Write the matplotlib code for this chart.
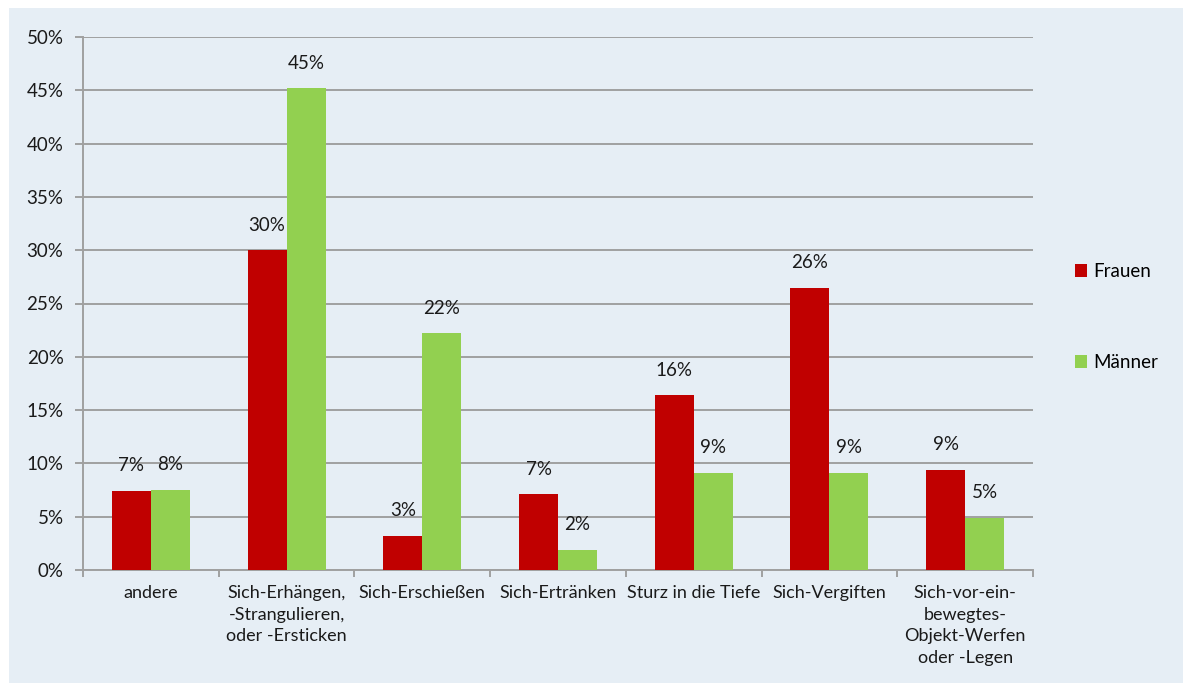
import matplotlib
matplotlib.use("Agg")
import matplotlib.pyplot as plt
import numpy as np
from matplotlib.patches import Rectangle

categories = ["andere", "Sich-Erhängen,\n-Strangulieren,\noder -Ersticken", "Sich-Erschießen",
              "Sich-Ertränken", "Sturz in die Tiefe", "Sich-Vergiften",
              "Sich-vor-ein-\nbewegtes-\nObjekt-Werfen\noder -Legen"]
frauen = [7.4, 30.0, 3.2, 7.1, 16.4, 26.5, 9.4]
maenner = [7.5, 45.2, 22.2, 1.9, 9.1, 9.1, 4.9]
frauen_labels = ["7%", "30%", "3%", "7%", "16%", "26%", "9%"]
maenner_labels = ["8%", "45%", "22%", "2%", "9%", "9%", "5%"]
yticks = [0, 5, 10, 15, 20, 25, 30, 35, 40, 45, 50]

plt.rcParams['font.family'] = ['Lato', 'DejaVu Sans']
BG = "#E6EEF5"
FS = 13.5
fig = plt.figure(figsize=(11.83, 6.83), dpi=100, facecolor="white")
fig.patches.append(Rectangle((9/1183, 0), 1 - 9/1183, 1 - 8/683, transform=fig.transFigure,
                             facecolor=BG, edgecolor="none", zorder=-10))
ax = fig.add_axes([83/1183, 1 - 570/683, 950/1183, 533/683])
ax.set_facecolor(BG)

x = np.arange(len(categories))
w = 0.287
ax.bar(x - w/2, frauen, w, color="#C00000", label="Frauen", zorder=3)
ax.bar(x + w/2, maenner, w, color="#92D050", label="Männer", zorder=3)

for xi, v, t in zip(x, frauen, frauen_labels):
    ax.annotate(t, (xi - w/2, v), xytext=(0, 12), textcoords="offset points",
                ha="center", va="bottom", fontsize=FS, color="#1a1a1a")
for xi, v, t in zip(x, maenner, maenner_labels):
    ax.annotate(t, (xi + w/2, v), xytext=(0, 12), textcoords="offset points",
                ha="center", va="bottom", fontsize=FS, color="#1a1a1a")

ax.set_xlim(-0.5, len(categories) - 0.5)
ax.set_ylim(0, 50)
ax.set_yticks(yticks)
ax.set_yticklabels([f"{t}%" for t in yticks], fontsize=FS, color="#1a1a1a")
ax.yaxis.grid(True, color="#A0A0A0", linewidth=1.4, zorder=0)
ax.set_axisbelow(True)
for s in ["top", "right"]:
    ax.spines[s].set_visible(False)
for s in ["left", "bottom"]:
    ax.spines[s].set_color("#A0A0A0")
    ax.spines[s].set_linewidth(1.4)
ax.tick_params(axis="y", length=6, color="#A0A0A0", width=1.4, pad=8)

ax.set_xticks(np.arange(-0.5, len(categories) + 0.5, 1))
ax.set_xticklabels([])
ax.tick_params(axis="x", length=5, color="#A0A0A0", width=1.4)
ax.set_xticks(x, minor=True)
ax.set_xticklabels(categories, minor=True, fontsize=13, color="#1a1a1a", linespacing=1.42)
ax.tick_params(axis="x", which="minor", length=0, pad=11)
for lbl in ax.get_xticklabels(minor=True):
    lbl.set_verticalalignment("top")

leg = fig.legend(loc="upper left", bbox_to_anchor=(1058/1183, 1 - 246/683), frameon=False,
                 fontsize=FS, handlelength=0.65, handleheight=0.65, handletextpad=0.35,
                 labelspacing=3.95)

fig.savefig("out.png", dpi=100, facecolor="white")
